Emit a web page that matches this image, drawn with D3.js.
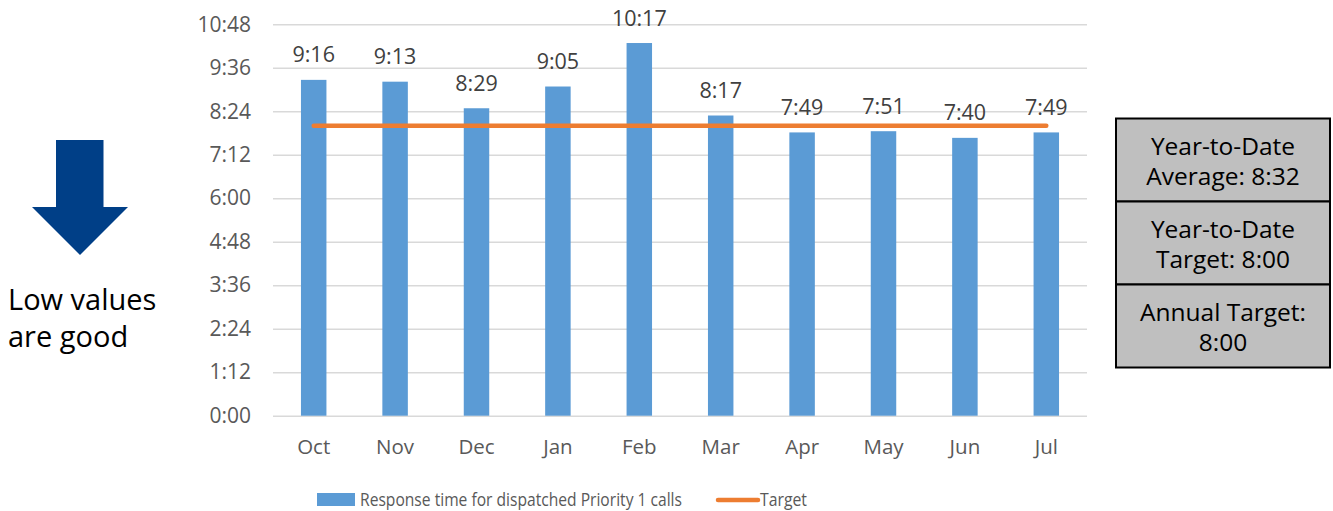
<!DOCTYPE html>
<html>
<head>
<meta charset="utf-8">
<script src="https://cdn.jsdelivr.net/npm/d3@7"></script>
<style>
  html, body { margin: 0; padding: 0; background: #fff; }
  svg { display: block; font-family: "Open Sans", "Noto Sans", sans-serif; }
</style>
</head>
<body>
<svg id="chart" width="1333" height="511"></svg>
<script>
// Monthly response times for dispatched Priority 1 calls (m:ss)
const months = ["Oct", "Nov", "Dec", "Jan", "Feb", "Mar", "Apr", "May", "Jun", "Jul"];
const responseTimes = ["9:16", "9:13", "8:29", "9:05", "10:17", "8:17", "7:49", "7:51", "7:40", "7:49"];
const targetTimes = ["8:00", "8:00", "8:00", "8:00", "8:00", "8:00", "8:00", "8:00", "8:00", "8:00"];
const yTicks = ["0:00", "1:12", "2:24", "3:36", "4:48", "6:00", "7:12", "8:24", "9:36", "10:48"];
const seriesNames = ["Response time for dispatched Priority 1 calls", "Target"];
const summaryBoxes = [
  ["Year-to-Date", "Average: 8:32"],
  ["Year-to-Date", "Target: 8:00"],
  ["Annual Target:", "8:00"]
];
const noteLines = ["Low values", "are good"];

const toSec = s => { const [m, ss] = s.split(":").map(Number); return m * 60 + ss; };
const fmt = v => Math.floor(v / 60) + ":" + String(Math.round(v % 60)).padStart(2, "0");

const svg = d3.select("#chart");
const plot = { left: 273, right: 1087, top: 24.3, bottom: 415.7 };

const x = d3.scaleBand().domain(months).range([plot.left, plot.right]).paddingInner(0.687).paddingOuter(0.3435);
const tickSecs = yTicks.map(toSec);
const y = d3.scaleLinear().domain([0, d3.max(tickSecs)]).range([plot.bottom, plot.top]);

// gridlines + y labels
const yAxis = d3.axisLeft(y).tickValues(tickSecs).tickFormat(fmt)
  .tickSize(-(plot.right - plot.left)).tickPadding(22);
const gy = svg.append("g").attr("transform", `translate(${plot.left},0)`).call(yAxis);
gy.select(".domain").remove();
gy.selectAll(".tick line").attr("stroke", "#d9d9d9").attr("stroke-width", 1.4);
gy.selectAll(".tick text").attr("fill", "#595959").attr("font-size", 21)
  .attr("font-family", "'Open Sans', sans-serif");

// x labels
const xAxis = d3.axisBottom(x).tickSize(0).tickPadding(24);
const gx = svg.append("g").attr("transform", `translate(0,${plot.bottom})`).call(xAxis);
gx.select(".domain").remove();
gx.selectAll(".tick text").attr("fill", "#595959").attr("font-size", 20.5)
  .attr("font-family", "'Open Sans', sans-serif");

// bars
const data = months.map((m, i) => ({ m, v: toSec(responseTimes[i]), label: responseTimes[i], t: toSec(targetTimes[i]) }));
svg.append("g").selectAll("rect").data(data).join("rect")
  .attr("x", d => x(d.m)).attr("width", x.bandwidth())
  .attr("y", d => y(d.v)).attr("height", d => y(0) - y(d.v))
  .attr("fill", "#5b9bd5");

// target line
const line = d3.line().x(d => x(d.m) + x.bandwidth() / 2).y(d => y(d.t));
svg.append("path").datum(data).attr("d", line)
  .attr("fill", "none").attr("stroke", "#ed7d31").attr("stroke-width", 4.5)
  .attr("stroke-linecap", "round");

// value labels
svg.append("g").selectAll("text").data(data).join("text")
  .attr("x", d => x(d.m) + x.bandwidth() / 2).attr("y", d => y(d.v) - 17.5)
  .attr("text-anchor", "middle").attr("fill", "#404040").attr("font-size", 21.5)
  .text(d => d.label);

// legend
const lg = svg.append("g");
lg.append("rect").attr("x", 317).attr("y", 493).attr("width", 38).attr("height", 13).attr("fill", "#5b9bd5");
lg.append("text").attr("x", 360).attr("y", 506).attr("fill", "#595959").attr("font-size", 17.5)
  .attr("textLength", 322).attr("lengthAdjust", "spacingAndGlyphs").text(seriesNames[0]);
lg.append("line").attr("x1", 718).attr("x2", 758).attr("y1", 500).attr("y2", 500)
  .attr("stroke", "#ed7d31").attr("stroke-width", 4.5).attr("stroke-linecap", "round");
lg.append("text").attr("x", 760).attr("y", 506).attr("fill", "#595959").attr("font-size", 17.5)
  .attr("textLength", 47).attr("lengthAdjust", "spacingAndGlyphs").text(seriesNames[1]);

// summary boxes
const box = { x: 1116, w: 214, top: 118.5, h: 83 };
const bg = svg.append("g");
summaryBoxes.forEach((lines, i) => {
  const by = box.top + i * box.h;
  bg.append("rect").attr("x", box.x).attr("y", by).attr("width", box.w).attr("height", box.h)
    .attr("fill", "#bfbfbf").attr("stroke", "#000").attr("stroke-width", 2);
  lines.forEach((t, j) => {
    bg.append("text").attr("x", box.x + box.w / 2).attr("y", by + 36 + j * 30)
      .attr("text-anchor", "middle").attr("font-size", 24.5).attr("fill", "#000").text(t);
  });
});

// down arrow + note
const arrow = [[56, 140], [103.5, 140], [103.5, 207], [128, 207], [80, 255], [32, 207], [56, 207]];
svg.append("path").attr("d", d3.line()(arrow) + "Z").attr("fill", "#003f87");
noteLines.forEach((t, i) => {
  svg.append("text").attr("x", 8).attr("y", 310 + i * 37).attr("font-size", 29).attr("fill", "#000").text(t);
});
</script>
</body>
</html>
